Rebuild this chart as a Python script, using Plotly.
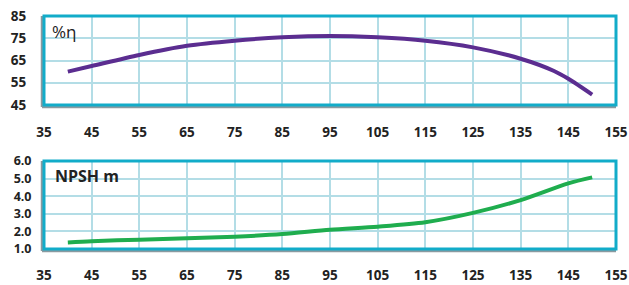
import plotly.graph_objects as go
from plotly.subplots import make_subplots

flow = [40, 45, 55, 65, 75, 85, 95, 105, 115, 125, 135, 142, 145, 150]
efficiency = [60, 62.5, 67.5, 71.6, 73.9, 75.4, 76, 75.4, 73.9, 70.9, 65.8, 60.3, 56.8, 49.7]

npsh_flow = [40, 45, 55, 65, 75, 85, 95, 105, 115, 125, 135, 145, 150]
npsh = [1.37, 1.44, 1.53, 1.61, 1.70, 1.85, 2.10, 2.27, 2.52, 3.05, 3.78, 4.73, 5.07]

x_ticks = list(range(35, 160, 10))
eff_ticks = [45, 55, 65, 75, 85]
npsh_ticks = [1, 2, 3, 4, 5, 6]

W, H = 629, 285
ML, MR, MT, MB = 44, 13, 16, 36
ph = H - MT - MB
top_dom = [(249 - 105) / ph, 1.0]
bot_dom = [0.0, (249 - 161) / ph]

fig = make_subplots(rows=2, cols=1)

fig.add_trace(go.Scatter(x=flow, y=efficiency, mode="lines", line=dict(color="#5b2d90", width=4, shape="spline", smoothing=0.8),
                         hoverinfo="skip", showlegend=False), row=1, col=1)
fig.add_trace(go.Scatter(x=npsh_flow, y=npsh, mode="lines", line=dict(color="#1fad4e", width=4, shape="spline", smoothing=0.8),
                         hoverinfo="skip", showlegend=False), row=2, col=1)

tfont = dict(family="Open Sans", size=13.5, color="#222222", weight="bold")
grid = "#b3dde6"
xcommon = dict(range=[35, 155], tickvals=x_ticks, showgrid=True, gridcolor=grid, gridwidth=1.5, automargin=False,
               zeroline=False, ticks="outside", tickcolor="rgba(0,0,0,0)", tickfont=tfont)
fig.update_layout(
    xaxis=dict(**xcommon, domain=[0, 1], ticklen=15, anchor="y"),
    xaxis2=dict(**xcommon, domain=[0, 1], ticklen=14, anchor="y2"),
    yaxis=dict(domain=top_dom, range=[45, 85], tickvals=eff_ticks, showgrid=True, gridcolor=grid, gridwidth=1.5,
               automargin=False, zeroline=False, ticks="outside", ticklen=14, tickcolor="rgba(0,0,0,0)", tickfont=tfont),
    yaxis2=dict(domain=bot_dom, range=[1, 6], tickvals=npsh_ticks, tickformat=".1f", showgrid=True, gridcolor=grid, gridwidth=1.5,
                automargin=False, zeroline=False, ticks="outside", ticklen=9, tickcolor="rgba(0,0,0,0)",
                tickfont=dict(family="Open Sans", size=12.5, color="#222222", weight="bold")),
)

pw = W - ML - MR
shapes = []
for xa, ya, hpx in [("x", "y", 89), ("x2", "y2", 88)]:
    dx = 2.0 / pw
    dy = 2.0 / hpx
    shapes.append(dict(type="line", xref=f"{xa} domain", yref=f"{ya} domain", x0=-dx, x1=-dx, y0=-dy, y1=1,
                       line=dict(color="#8a9aa0", width=2.5)))
    shapes.append(dict(type="line", xref=f"{xa} domain", yref=f"{ya} domain", x0=-dx, x1=1, y0=-dy, y1=-dy,
                       line=dict(color="#8a9aa0", width=2.5)))
    shapes.append(dict(type="rect", xref=f"{xa} domain", yref=f"{ya} domain", x0=0, x1=1, y0=0, y1=1,
                       line=dict(color="#12acc9", width=3)))
fig.update_layout(shapes=shapes)

fig.add_annotation(text="%η", xref="x domain", yref="y domain", x=0.01, y=0.98, xanchor="left", yanchor="top",
                   showarrow=False, font=dict(family="Open Sans", size=17, color="#222222"))
fig.add_annotation(text="NPSH m", xref="x2 domain", yref="y2 domain", x=0.016, y=0.98, xanchor="left", yanchor="top",
                   showarrow=False, font=dict(family="Open Sans", size=16, color="#222222", weight="bold"))

fig.update_layout(width=W, height=H, margin=dict(l=ML, r=MR, t=MT, b=MB),
                  paper_bgcolor="white", plot_bgcolor="white")
fig.write_html("out.html", config={"displayModeBar": False},
               post_script="document.body.style.margin='0';")
